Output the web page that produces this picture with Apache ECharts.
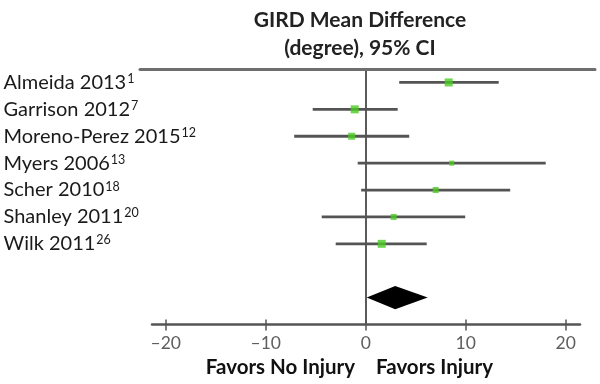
<!DOCTYPE html>
<html><head><meta charset="utf-8">
<script src="https://cdn.jsdelivr.net/npm/echarts@6/dist/echarts.min.js"></script>
<style>html,body{margin:0;padding:0;background:#fff}#c{width:600px;height:384px}</style>
</head><body><div id="c"></div>
<script>
const studies = ['Almeida 2013', 'Garrison 2012', 'Moreno-Perez 2015', 'Myers 2006', 'Scher 2010', 'Shanley 2011', 'Wilk 2011'];
const refs = ['1', '7', '12', '13', '18', '20', '26'];
const meanDiff = [8.3, -1.1, -1.4, 8.6, 7.0, 2.8, 1.6];
const ciLower = [3.35, -5.3, -7.15, -0.8, -0.45, -4.4, -3.0];
const ciUpper = [13.3, 3.2, 4.35, 18.0, 14.45, 9.95, 6.1];
const markerSize = [8, 8, 7, 5, 6, 6, 8];
const pooledMean = 2.95, pooledLower = 0.1, pooledUpper = 6.2;
const pooledRow = 8;
const xTicks = [-20, -10, 0, 10, 20];
const titleLines = ['GIRD Mean Difference', '(degree), 95% CI'];
const favorLeft = 'Favors No Injury', favorRight = 'Favors Injury';

const FONT = 'Lato';
const rows = studies.map((s, i) => i);

const chart = echarts.init(document.getElementById('c'), null, {renderer: 'canvas'});
chart.setOption({
  animation: false,
  backgroundColor: '#fff',
  title: {
    text: titleLines.join('\n'),
    left: 355, top: 1, textAlign: 'center',
    textStyle: {fontFamily: FONT, fontWeight: 'bold', fontSize: 21, lineHeight: 28, color: '#222'}
  },
  grid: [
    {left: 152, right: 20, top: 69, bottom: 59.5},
    {left: 140, right: 5, top: 69, height: 1}
  ],
  xAxis: [
    {gridIndex: 0, type: 'value', min: -21.37, max: 21.43, position: 'bottom',
     axisLine: {show: true, onZero: false, lineStyle: {color: '#555', width: 2.5}},
     axisTick: {show: true, inside: false, length: 6, customValues: xTicks, lineStyle: {color: '#555', width: 1.5}},
     axisLabel: {show: true, customValues: xTicks, margin: 10, fontFamily: FONT, fontSize: 17.5, color: '#5e5e5e',
       formatter: v => String(v).replace('-', '\u2013')},
     splitLine: {show: false}},
    {gridIndex: 0, type: 'value', min: -21.37, max: 21.43, position: 'bottom',
     axisLine: {show: false, onZero: false},
     axisTick: {show: true, inside: true, length: 5, customValues: xTicks, lineStyle: {color: '#555', width: 1.5}},
     axisLabel: {show: false}, splitLine: {show: false}},
    {gridIndex: 1, type: 'value', min: 0, max: 1, position: 'top',
     axisLine: {show: true, onZero: false, lineStyle: {color: '#6e6e6e', width: 3}},
     axisTick: {show: false}, axisLabel: {show: false}, splitLine: {show: false}}
  ],
  yAxis: [
    {gridIndex: 0, type: 'value', inverse: true, min: -0.5, max: 9, position: 'left',
     axisLine: {show: true, onZero: true, lineStyle: {color: '#333', width: 1.6}},
     axisTick: {show: false}, axisLabel: {show: false}, splitLine: {show: false}},
    {gridIndex: 0, type: 'value', inverse: true, min: -0.5, max: 9, position: 'left',
     axisLine: {show: false, onZero: false}, axisTick: {show: false}, splitLine: {show: false},
     axisLabel: {show: true, customValues: rows, align: 'left', margin: 148.5,
       formatter: v => '{n|' + studies[v] + '}{s|' + refs[v] + '}',
       rich: {
         n: {fontFamily: FONT, fontSize: 20, color: '#1a1a1a', lineHeight: 22},
         s: {fontFamily: FONT, fontSize: 12.5, color: '#1a1a1a', lineHeight: 12, verticalAlign: 'top', padding: [1, 0, 0, 1]}
       }}},
    {gridIndex: 1, type: 'value', show: false}
  ],
  series: [
    {type: 'custom', xAxisIndex: 0, yAxisIndex: 0, z: 3,
     data: rows.map(i => [ciLower[i], ciUpper[i], i]),
     renderItem: (params, api) => {
       const a = api.coord([api.value(0), api.value(2)]);
       const b = api.coord([api.value(1), api.value(2)]);
       return {type: 'line', shape: {x1: a[0], y1: a[1], x2: b[0], y2: b[1]},
               style: {stroke: '#545454', lineWidth: 2.8}};
     }},
    {type: 'scatter', xAxisIndex: 0, yAxisIndex: 0, z: 4, symbol: 'rect',
     data: rows.map(i => ({value: [meanDiff[i], i], symbolSize: markerSize[i]})),
     itemStyle: {color: '#4ccb22'}},
    {type: 'custom', xAxisIndex: 0, yAxisIndex: 0, z: 4,
     data: [[pooledLower, pooledMean, pooledUpper, pooledRow]],
     renderItem: (params, api) => {
       const row = api.value(3);
       const l = api.coord([api.value(0), row]);
       const m = api.coord([api.value(1), row]);
       const r = api.coord([api.value(2), row]);
       const up = api.coord([api.value(1), row - 0.43]);
       const dn = api.coord([api.value(1), row + 0.43]);
       return {type: 'polygon', shape: {points: [l, [m[0], up[1]], r, [m[0], dn[1]]]},
               style: {fill: '#000'}};
     }}
  ],
  graphic: [
    {type: 'text', right: 600 - 355, top: 357,
     style: {text: favorLeft, font: 'bold 20.5px ' + FONT, fill: '#111'}},
    {type: 'text', left: 376, top: 357,
     style: {text: favorRight, font: 'bold 20.5px ' + FONT, fill: '#111'}}
  ]
});
</script>
</body></html>
